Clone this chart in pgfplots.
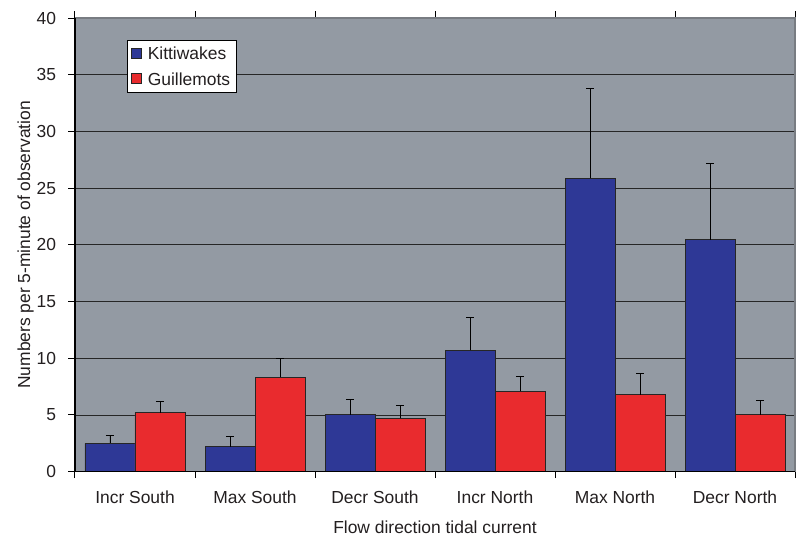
\documentclass[border=0pt]{standalone}
\usepackage{fontspec}
\setmainfont{Liberation Sans}
\usepackage{pgfplots}
\pgfplotsset{compat=1.18}
\definecolor{bgGray}{RGB}{147,154,163}
\definecolor{kitBlue}{RGB}{46,56,150}
\definecolor{guiRed}{RGB}{233,43,46}
\definecolor{txt}{RGB}{35,31,32}
\definecolor{frameGray}{RGB}{120,124,130}
\begin{document}
\begin{tikzpicture}[font=\fontsize{17.5}{21}\selectfont, text=txt]
\begin{axis}[
  at={(0,0)}, anchor=south west,
  scale only axis,
  width=720bp, height=453.7bp,
  xmin=-0.5, xmax=5.5,
  ymin=0, ymax=40,
  ytick={0,5,...,40},
  yticklabels={0,5,10,15,20,25,30,35,40},
  xtick={-0.5,0.5,...,5.5},
  xticklabels={Incr South,Max South,Decr South,Incr North,Max North,Decr North},
  x tick label as interval,
  tick align=outside,
  major tick length=6.5bp,
  tick style={black, line width=1bp},
  ymajorgrids,
  grid style={black!85, line width=0.9bp},
  axis background/.style={fill=bgGray},
  axis line style={draw=none},
  yticklabel style={font=\fontsize{17.5}{21}\selectfont, text=txt, xshift=-9bp},
  xticklabel style={font=\fontsize{17.5}{21}\selectfont, text=txt, yshift=-9bp},
  ylabel={Numbers per 5-minute of observation},
  xlabel={Flow direction tidal current},
  ylabel style={font=\fontsize{17.5}{21}\selectfont, text=txt, yshift=-4bp},
  xlabel style={font=\fontsize{17.5}{21}\selectfont, text=txt, yshift=-11bp},
  ybar=0pt,
  bar width=50bp,
  legend style={at={(axis description cs:0.0718,0.9515)}, anchor=north west,
    draw=black, line width=0.6bp, fill=white, font=\fontsize{17.5}{21}\selectfont,
    inner xsep=4.5bp, inner ysep=5bp, row sep=8.5bp,
    nodes={text depth=0pt}},
  legend cell align=left,
  legend image code/.code={\draw[#1, line width=0.6bp] (0bp,-5bp) rectangle (10bp,5bp); \path[draw=none, fill=none] (0bp,0bp) -- (14bp,0bp);},
  after end axis/.code={
    \draw[frameGray, line width=1.2bp] (rel axis cs:0,1) -- (rel axis cs:1,1) -- (rel axis cs:1,0);
    \draw[black, line width=1.3bp] (rel axis cs:0,1) -- (rel axis cs:0,0) -- (rel axis cs:1,0);
  },
]
\addplot[fill=kitBlue, draw=black!85, line width=0.8bp,
  error bars/.cd, y dir=plus, y explicit,
  error bar style={black, line width=0.9bp},
  error mark options={rotate=90, mark size=4bp, black, line width=0.9bp}]
  coordinates {
  (0,2.5) +- (0,0.67)
  (1,2.2) +- (0,0.88)
  (2,5.02) +- (0,1.36)
  (3,10.7) +- (0,2.87)
  (4,25.85) +- (0,7.93)
  (5,20.47) +- (0,6.70)
};
\addlegendentry{Kittiwakes}
\addplot[fill=guiRed, draw=black!85, line width=0.8bp,
  error bars/.cd, y dir=plus, y explicit,
  error bar style={black, line width=0.9bp},
  error mark options={rotate=90, mark size=4bp, black, line width=0.9bp}]
  coordinates {
  (0,5.2) +- (0,1.0)
  (1,8.34) +- (0,1.66)
  (2,4.7) +- (0,1.11)
  (3,7.08) +- (0,1.29)
  (4,6.78) +- (0,1.92)
  (5,5.02) +- (0,1.27)
};
\addlegendentry{Guillemots}
\end{axis}
\pgfresetboundingbox
\path[use as bounding box] (-75bp,-66.3bp) rectangle (721bp,471.7bp);
\end{tikzpicture}
\end{document}
